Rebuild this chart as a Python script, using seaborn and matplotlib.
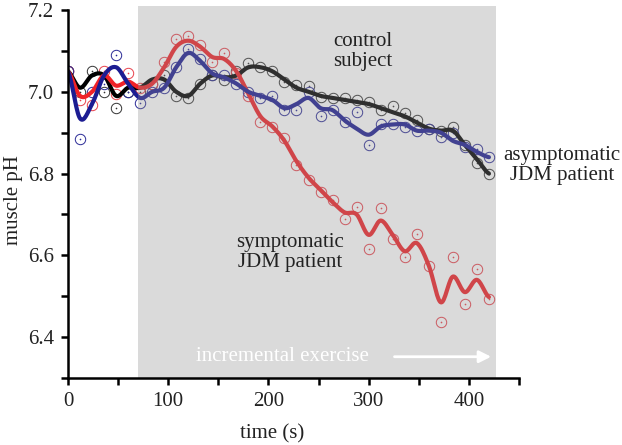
import numpy as np
import pandas as pd
import matplotlib
matplotlib.use("Agg")
import matplotlib.pyplot as plt
import seaborn as sns
from matplotlib.ticker import MultipleLocator, FormatStrFormatter

# sample times (s)
time_s = list(range(0, 421, 12))

# measured points
control_pts = [7.05, 7.00, 7.05, 7.00, 6.96, 7.00, 7.00, 7.02, 7.04, 6.99, 6.985, 7.02,
               7.04, 7.03, 7.05, 7.07, 7.06, 7.05, 7.025, 7.017, 7.013, 6.988, 6.985, 6.985,
               6.98, 6.975, 6.956, 6.965, 6.948, 6.93, 6.91, 6.903, 6.915, 6.87, 6.825, 6.80]
sympt_pts = [7.05, 6.98, 6.967, 7.052, 6.995, 7.045, 7.01, 7.02, 7.074, 7.128, 7.136, 7.115,
             7.074, 7.095, 7.045, 6.99, 6.927, 6.915, 6.887, 6.82, 6.785, 6.755, 6.735, 6.69,
             6.717, 6.616, 6.715, 6.641, 6.596, 6.651, 6.575, 6.436, 6.596, 6.482, 6.567, 6.494]
asympt_pts = [7.05, 6.885, 7.00, 7.02, 7.09, 7.00, 6.973, 7.00, 7.01, 7.06, 7.105, 7.08,
              7.04, 7.04, 7.02, 7.00, 6.985, 6.99, 6.956, 6.956, 7.00, 6.94, 6.955, 6.927,
              6.95, 6.87, 6.921, 6.92, 6.915, 6.905, 6.91, 6.89, 6.90, 6.866, 6.86, 6.841]

# fitted curves read at the same times
control_fit = [7.05, 7.01, 7.04, 7.04, 6.99, 7.01, 7.01, 7.03, 7.03, 7.00, 6.99, 7.02,
               7.04, 7.035, 7.04, 7.06, 7.06, 7.05, 7.03, 7.01, 7.00, 6.99, 6.985, 6.98,
               6.975, 6.97, 6.96, 6.95, 6.94, 6.925, 6.91, 6.905, 6.905, 6.87, 6.835, 6.80]
sympt_fit = [7.05, 6.99, 7.00, 7.04, 7.015, 7.025, 7.01, 7.02, 7.06, 7.11, 7.125, 7.11,
             7.085, 7.08, 7.05, 6.995, 6.94, 6.915, 6.88, 6.83, 6.79, 6.76, 6.73, 6.705,
             6.70, 6.65, 6.685, 6.65, 6.61, 6.63, 6.575, 6.485, 6.548, 6.51, 6.54, 6.498]
asympt_fit = [7.05, 6.935, 6.97, 7.04, 7.06, 7.02, 6.985, 7.00, 7.01, 7.06, 7.095, 7.075,
              7.045, 7.035, 7.02, 7.00, 6.99, 6.98, 6.96, 6.97, 6.985, 6.96, 6.955, 6.93,
              6.91, 6.895, 6.915, 6.92, 6.92, 6.905, 6.905, 6.90, 6.88, 6.87, 6.853, 6.84]

colors = {"control": "#000000", "sympt": "#f02228", "asympt": "#1c1c92"}
ring_colors = {"control": "#333333", "sympt": "#e8404a", "asympt": "#2a2a96"}


def spline(t, y, n=16):
    # catmull-rom, only to draw the fitted line smoothly
    t = np.asarray(t, float)
    y = np.asarray(y, float)
    xs, ys = [], []
    for i in range(len(y) - 1):
        p0 = y[max(i - 1, 0)]
        p1, p2 = y[i], y[i + 1]
        p3 = y[min(i + 2, len(y) - 1)]
        s = np.linspace(0, 1, n, endpoint=False)
        ys.append(0.5 * (2 * p1 + (-p0 + p2) * s + (2 * p0 - 5 * p1 + 4 * p2 - p3) * s ** 2
                         + (-p0 + 3 * p1 - 3 * p2 + p3) * s ** 3))
        xs.append(t[i] + s * (t[i + 1] - t[i]))
    xs.append([t[-1]])
    ys.append([y[-1]])
    return np.concatenate(xs), np.concatenate(ys)


sns.set_style("ticks")
plt.rcParams["font.family"] = ["Liberation Serif", "DejaVu Serif"]

fig = plt.figure(figsize=(6.22, 4.45), dpi=100)
ax = fig.add_axes([0.1093, 0.1506, 0.7251, 0.8269])

series = [("control", control_pts, control_fit),
          ("sympt", sympt_pts, sympt_fit),
          ("asympt", asympt_pts, asympt_fit)]

for key, pts, fit in series:
    ax.plot(time_s, pts, linestyle="none", marker="o", ms=7.5, mfc="none",
            mec=ring_colors[key], mew=0.7, zorder=2)
    ax.plot(time_s, pts, linestyle="none", marker="o", ms=1.2, mfc=ring_colors[key],
            mec="none", zorder=2)

for key, pts, fit in series:
    fx, fy = spline(time_s, fit)
    df = pd.DataFrame({"t": fx, "ph": fy})
    sns.lineplot(data=df, x="t", y="ph", color=colors[key], linewidth=3.0, ax=ax,
                 zorder=3, sort=False)

# grey exercise block laid over the traces
ax.axvspan(70, 427, ymin=0, ymax=1.012, color="#8f8f8f", alpha=0.33, lw=0,
           zorder=4, clip_on=False)

ax.set_xlim(0, 450)
ax.set_ylim(6.3, 7.2)
ax.xaxis.set_major_locator(MultipleLocator(100))
ax.xaxis.set_minor_locator(MultipleLocator(50))
ax.yaxis.set_major_locator(MultipleLocator(0.2))
ax.yaxis.set_minor_locator(MultipleLocator(0.1))
ax.yaxis.set_major_formatter(FormatStrFormatter("%.1f"))
ax.tick_params(which="both", direction="out", length=5, width=1.8, labelsize=15,
               pad=5, color="black", labelcolor="#222222")
sns.despine(ax=ax)
for side in ["left", "bottom"]:
    ax.spines[side].set_linewidth(1.8)
    ax.spines[side].set_color("black")
    ax.spines[side].set_zorder(6)

ax.set_xlabel("time (s)", fontsize=15, color="#222222")
ax.set_ylabel("muscle pH", fontsize=15, color="#222222")
ax.xaxis.set_label_coords(0.452, -0.125)
ax.yaxis.set_label_coords(-0.10, 0.484)

txt = dict(fontsize=15, color="#222222", ha="center", va="center",
           multialignment="center", linespacing=1.05, zorder=7)
ax.text(294, 7.098, "control\nsubject", **txt)
ax.text(493, 6.82, "asymptomatic\nJDM patient", clip_on=False, **txt)
ax.text(222, 6.607, "symptomatic\nJDM patient", **txt)
ax.text(214, 6.353, "incremental exercise", fontsize=15, color="white",
        ha="center", va="center", zorder=7)
ax.annotate("", xy=(425, 6.352), xytext=(323, 6.352),
            arrowprops=dict(arrowstyle="-|>", color="white", lw=2,
                            mutation_scale=18), zorder=7)

fig.savefig("out.png", dpi=100)
